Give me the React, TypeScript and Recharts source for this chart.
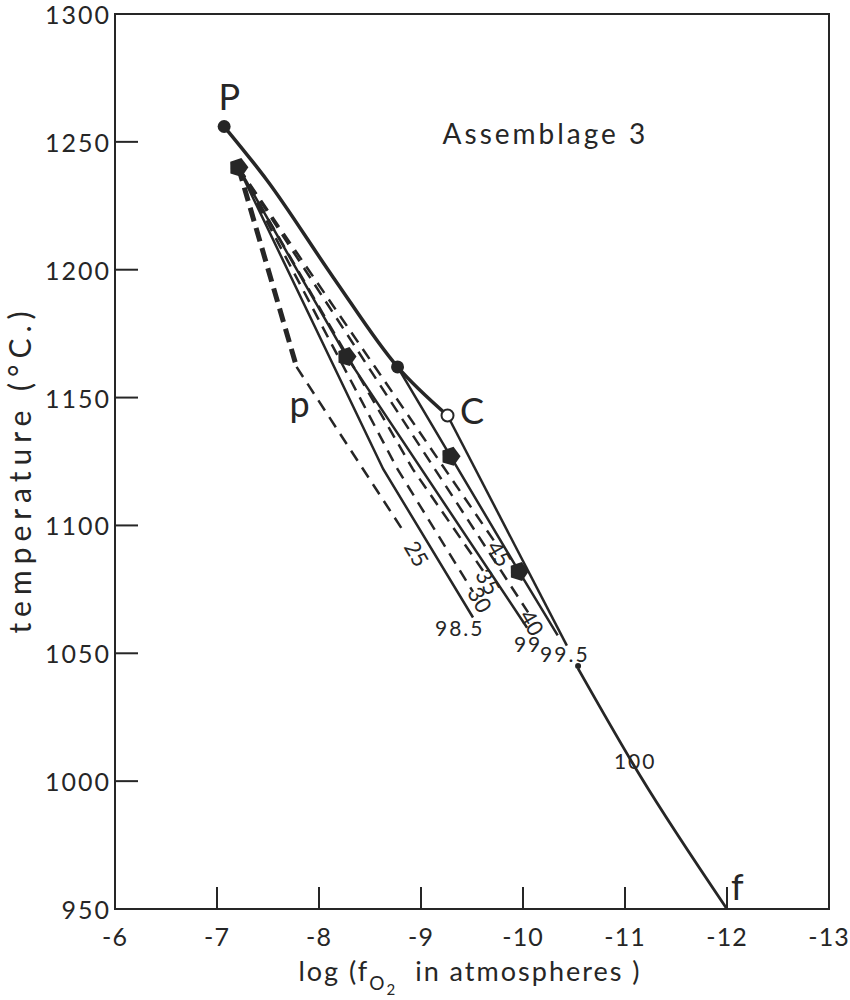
import React from 'react';
import { ComposedChart, Line, Scatter, XAxis, YAxis, ReferenceArea, Label } from 'recharts';

// axis ticks
const xTicks = [-6, -7, -8, -9, -10, -11, -12, -13];
const yTicks = [950, 1000, 1050, 1100, 1150, 1200, 1250, 1300];

// boundary curve P -> C
const upperCurve = [
  { x: -7.07, y: 1256 },
  { x: -7.49, y: 1235 },
  { x: -8.14, y: 1197 },
  { x: -8.77, y: 1162 },
  { x: -9.26, y: 1143 },
];
// heavy dashed P -> p
const heavyDash = [
  { x: -7.21, y: 1240 },
  { x: -7.78, y: 1162 },
];
// dashed composition lines (percent)
const dash25 = [
  { x: -7.78, y: 1162 },
  { x: -8.84, y: 1097 },
];
const dash30 = [
  { x: -7.21, y: 1240 },
  { x: -8.77, y: 1122 },
  { x: -9.51, y: 1074 },
];
const dash35 = [
  { x: -7.21, y: 1240 },
  { x: -8.92, y: 1122 },
  { x: -9.63, y: 1081 },
];
const dash40 = [
  { x: -7.21, y: 1240 },
  { x: -10.05, y: 1066 },
];
const dash45 = [
  { x: -7.21, y: 1240 },
  { x: -9.75, y: 1092 },
];
// solid isopleths
const solid985 = [
  { x: -7.21, y: 1240 },
  { x: -8.63, y: 1122 },
  { x: -9.51, y: 1064 },
];
const solid99 = [
  { x: -7.21, y: 1240 },
  { x: -8.27, y: 1166 },
  { x: -10.04, y: 1060 },
];
const solid995 = [
  { x: -8.77, y: 1162 },
  { x: -9.29, y: 1127 },
  { x: -9.96, y: 1082 },
  { x: -10.34, y: 1057 },
];
const solidC = [
  { x: -9.26, y: 1143 },
  { x: -10.43, y: 1053 },
];
const solid100 = [
  { x: -10.54, y: 1044 },
  { x: -11.15, y: 1002 },
  { x: -12.0, y: 950 },
];

// markers
const filledDots = [
  { x: -7.07, y: 1256 },
  { x: -8.77, y: 1162 },
];
const openDots = [{ x: -9.26, y: 1143 }];
const pentagons = [
  { x: -7.21, y: 1240 },
  { x: -8.27, y: 1166 },
  { x: -9.29, y: 1127 },
  { x: -9.96, y: 1082 },
];
const smallDots = [{ x: -10.54, y: 1045 }];

// annotations
const pointLabels = [
  { x: -7.12, y: 1268, text: 'P' },
  { x: -7.81, y: 1148, text: 'p' },
  { x: -9.5, y: 1145, text: 'C' },
  { x: -12.1, y: 959, text: 'f' },
];
const lineLabels = [
  { x: -8.96, y: 1089, text: '25' },
  { x: -9.58, y: 1071, text: '30' },
  { x: -9.66, y: 1078, text: '35' },
  { x: -10.09, y: 1062, text: '40' },
  { x: -9.77, y: 1089, text: '45' },
];
const endLabels = [
  { x: -9.38, y: 1060, text: '98.5' },
  { x: -10.05, y: 1054, text: '99' },
  { x: -10.41, y: 1050, text: '99.5' },
  { x: -11.1, y: 1008, text: '100' },
];
const titleLabel = [{ x: -10.22, y: 1253.5, text: 'Assemblage 3' }];

const INK = '#262626';
const FONT = 'Lato, "Open Sans", sans-serif';

const XTick = (props: any) => {
  const { x, y, payload } = props;
  return (
    <g>
      <line x1={x} x2={x} y1={y - 8} y2={y - 30} stroke={INK} strokeWidth={2} />
      <text x={x} y={y + 29} textAnchor="middle" fontSize={25} letterSpacing={1} fill={INK} fontFamily={FONT}>
        {payload.value}
      </text>
    </g>
  );
};

const YTick = (props: any) => {
  const { x, y, payload } = props;
  return (
    <g>
      <line x1={x + 6} x2={x + 29} y1={y} y2={y} stroke={INK} strokeWidth={2} />
      <text x={x + 2} y={y} textAnchor="end" dominantBaseline="central" fontSize={25} letterSpacing={2} fill={INK} fontFamily={FONT}>
        {payload.value}
      </text>
    </g>
  );
};

const textShape = (size: number, rotate = 0, spacing = 0) => (p: any) => (
  <text
    x={p.cx}
    y={p.cy}
    textAnchor="middle"
    dominantBaseline="central"
    fontSize={size}
    letterSpacing={spacing}
    fill={INK}
    fontFamily={FONT}
    transform={rotate ? `rotate(${rotate} ${p.cx} ${p.cy})` : undefined}
  >
    {p.payload.text}
  </text>
);

const pentagonShape = (p: any) => {
  const r = 10;
  const pts = [0, 1, 2, 3, 4]
    .map((i) => {
      const a = (Math.PI * 2 * i) / 5 - Math.PI / 2 + 0.3;
      return `${p.cx + r * Math.cos(a)},${p.cy + r * Math.sin(a)}`;
    })
    .join(' ');
  return <polygon points={pts} fill={INK} />;
};

const solidLine = (data: any[], key: string, width = 2.5, type: any = 'linear') => (
  <Line
    key={key}
    data={data}
    dataKey="y"
    type={type}
    stroke={INK}
    strokeWidth={width}
    dot={false}
    activeDot={false}
    isAnimationActive={false}
  />
);

const dashedLine = (data: any[], key: string, width = 2.5, dash = '12 8') => (
  <Line
    key={key}
    data={data}
    dataKey="y"
    type="linear"
    stroke={INK}
    strokeWidth={width}
    strokeDasharray={dash}
    dot={false}
    activeDot={false}
    isAnimationActive={false}
  />
);

export default function App() {
  return (
    <div style={{ position: 'absolute', left: 0, top: 0, background: '#fff' }}>
      <ComposedChart width={850} height={1000} margin={{ top: 14, right: 21, left: 0, bottom: 0 }}>
        <XAxis
          dataKey="x"
          type="number"
          domain={[-13, -6]}
          reversed
          ticks={xTicks}
          interval={0}
          tickSize={0}
          tickMargin={8}
          tickLine={false}
          tick={<XTick />}
          height={91}
          axisLine={{ stroke: INK, strokeWidth: 2 }}
          allowDataOverflow
        >
          <Label
            content={(p: any) => {
              const vb = p.viewBox;
              const cx = vb.x + vb.width / 2 - 2;
              return (
                <text x={cx} y={vb.y + 72} textAnchor="middle" fontSize={27} letterSpacing={2} fill={INK} fontFamily={FONT}>
                  <tspan>log (f</tspan>
                  <tspan dy={9} fontSize={19}>O</tspan>
                  <tspan dy={5} fontSize={15}>2</tspan>
                  <tspan dy={-14} dx={18}>in atmospheres )</tspan>
                </text>
              );
            }}
          />
        </XAxis>
        <YAxis
          type="number"
          domain={[950, 1300]}
          ticks={yTicks}
          interval={0}
          tickSize={0}
          tickMargin={6}
          tickLine={false}
          tick={<YTick />}
          width={115}
          axisLine={{ stroke: INK, strokeWidth: 2 }}
          allowDataOverflow
        >
          <Label
            content={(p: any) => {
              const vb = p.viewBox;
              const cy = vb.y + vb.height / 2 + 8;
              return (
                <text
                  x={19}
                  y={cy}
                  textAnchor="middle"
                  dominantBaseline="central"
                  fontSize={30}
                  letterSpacing={6}
                  fill={INK}
                  fontFamily={FONT}
                  transform={`rotate(-90 19 ${cy})`}
                >
                  temperature (°C.)
                </text>
              );
            }}
          />
        </YAxis>
        <ReferenceArea x1={-6} x2={-13} y1={950} y2={1300} fill="none" stroke={INK} strokeWidth={2} ifOverflow="visible" />

        {solidLine(upperCurve, 'upper', 3.5, 'monotone')}
        {dashedLine(heavyDash, 'heavy', 5, '14 7')}
        {dashedLine(dash25, 'd25')}
        {dashedLine(dash30, 'd30')}
        {dashedLine(dash35, 'd35')}
        {dashedLine(dash40, 'd40')}
        {dashedLine(dash45, 'd45')}
        {solidLine(solid985, 's985')}
        {solidLine(solid99, 's99')}
        {solidLine(solid995, 's995')}
        {solidLine(solidC, 'sC')}
        {solidLine(solid100, 's100', 2.8, 'monotone')}

        <Scatter data={filledDots} dataKey="y" fill={INK} isAnimationActive={false}
          shape={(p: any) => <circle cx={p.cx} cy={p.cy} r={6.5} fill={INK} />} />
        <Scatter data={openDots} dataKey="y" isAnimationActive={false}
          shape={(p: any) => <circle cx={p.cx} cy={p.cy} r={6} fill="#fff" stroke={INK} strokeWidth={2} />} />
        <Scatter data={pentagons} dataKey="y" isAnimationActive={false} shape={pentagonShape} />
        <Scatter data={smallDots} dataKey="y" isAnimationActive={false}
          shape={(p: any) => <circle cx={p.cx} cy={p.cy} r={3} fill={INK} />} />

        <Scatter data={pointLabels} dataKey="y" isAnimationActive={false} shape={textShape(36)} />
        <Scatter data={lineLabels} dataKey="y" isAnimationActive={false} shape={textShape(22, 60)} />
        <Scatter data={endLabels} dataKey="y" isAnimationActive={false} shape={textShape(21, 0, 2)} />
        <Scatter data={titleLabel} dataKey="y" isAnimationActive={false} shape={textShape(28, 0, 3)} />
      </ComposedChart>
    </div>
  );
}
